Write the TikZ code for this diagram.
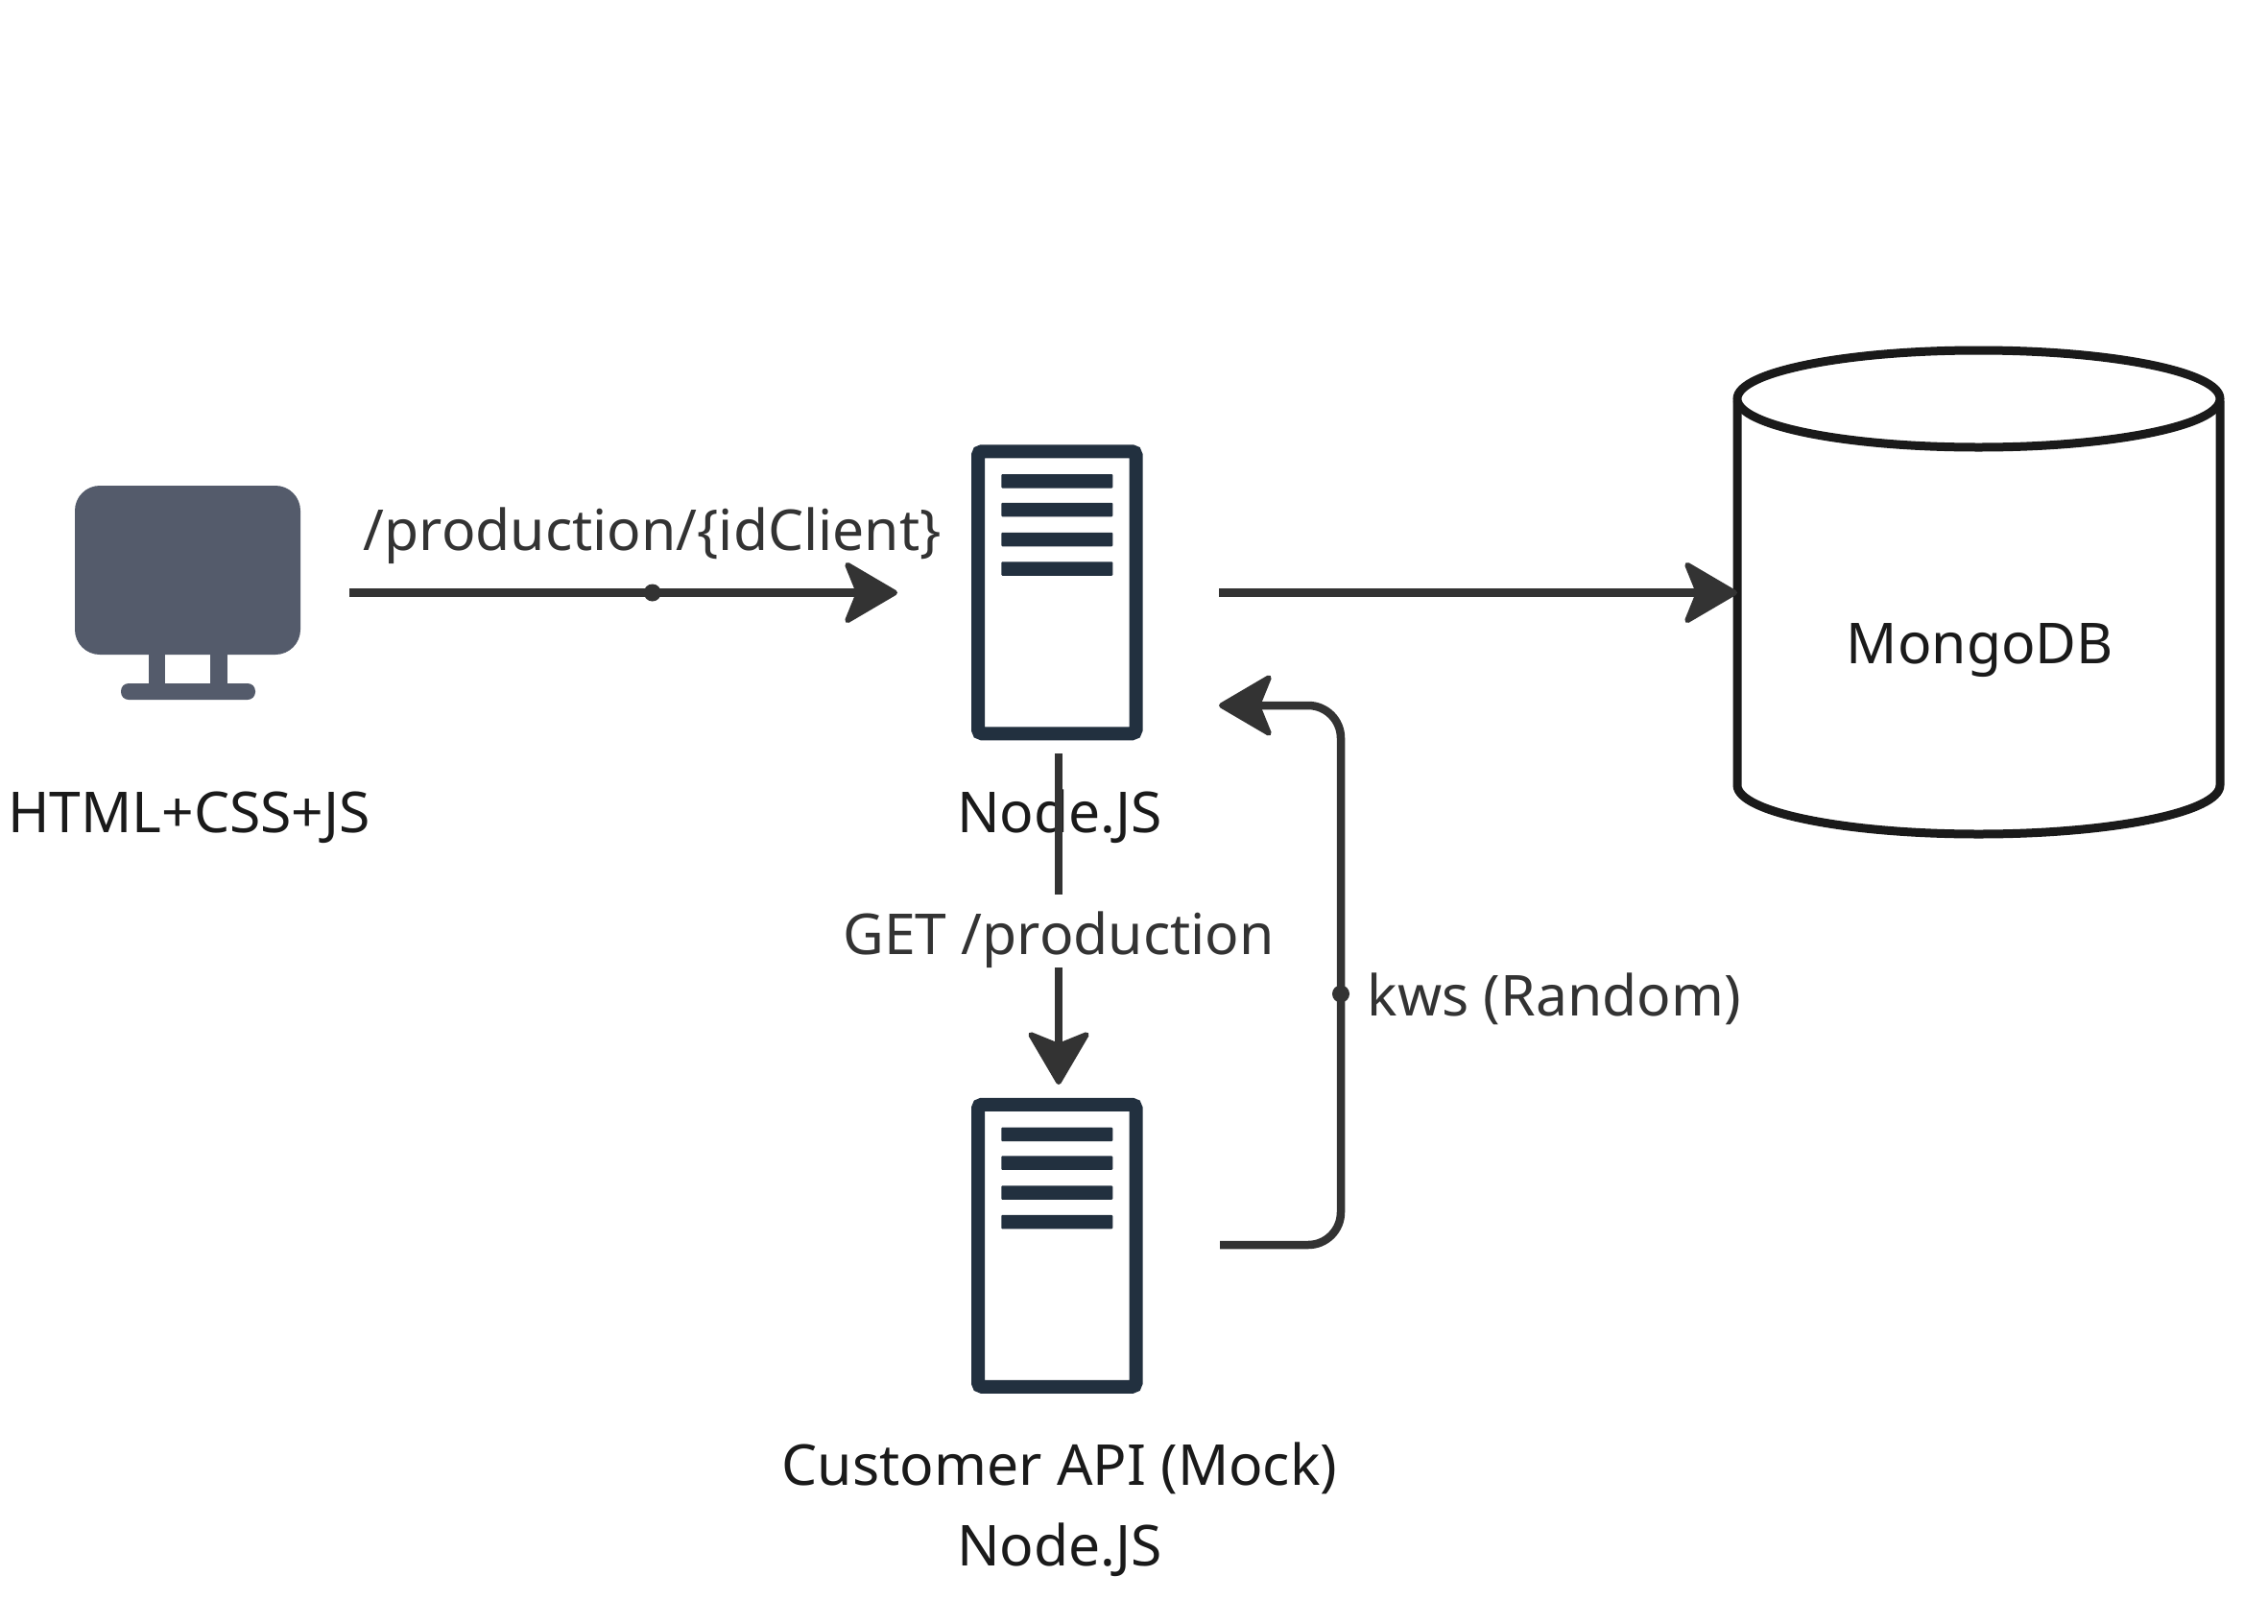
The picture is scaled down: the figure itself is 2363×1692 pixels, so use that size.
\documentclass[tikz,border=0pt]{standalone}
\usepackage{fontspec}
\setmainfont{Noto Sans}
\usetikzlibrary{arrows.meta,calc}
\definecolor{connc}{HTML}{333333}
\definecolor{textc}{HTML}{1A1A1A}
\definecolor{srvc}{HTML}{22303F}
\definecolor{monc}{HTML}{545B6B}
\newcommand{\lblfont}{\fontsize{29.4pt}{36pt}\selectfont}
\tikzset{
  x=0.5pt,y=-0.5pt,
  headtip/.tip={Stealth[length=30pt,width=35pt,inset=7pt,round,line width=2.8pt]},
  conn/.style={draw=connc,line width=4.25pt,-{headtip}},
  nodelabel/.style={font=\lblfont,text=textc,inner sep=0pt,anchor=base},
  edgelabel/.style={font=\lblfont,text=connc,inner sep=0pt,anchor=base},
  jointdot/.style={circle,fill=connc,inner sep=0pt,minimum size=9pt},
  srvbar/.style={fill=srvc,rounded corners=0.5pt},
  moncol/.style={fill=monc},
  serverpic/.pic={
    \node[draw=srvc,line width=7pt,rounded corners=2pt,fill=white,inner sep=0pt,
          minimum width=82.25pt,minimum height=147pt] (box) at (0,0) {};
    \foreach \yy in {-116,-86.25,-55.25,-24.75}
      \path[srvbar] (-58,\yy-7.25) rectangle (58,\yy+7.25);
  }
}
\begin{document}
\begin{tikzpicture}
\useasboundingbox (0,0) rectangle (2363,1692);
\fill[white] (0,0) rectangle (2363,1692);

% client monitor
\node[moncol,rounded corners=13pt,inner sep=0pt,minimum width=117.5pt,minimum height=88pt] (client) at (195.5,594) {};
\path[moncol] (155,680) rectangle (172,714);
\path[moncol] (219,680) rectangle (237,714);
\path[moncol,rounded corners=4pt] (126,712) rectangle (266,729);
\node[nodelabel] (clientlabel) at (197,867.5) {HTML+CSS+JS};

% servers
\pic (nj) at (1101.25,617.25) {serverpic};
\pic (api) at (1101.25,1297.75) {serverpic};
\node[nodelabel] (njlabel) at (1104,867) {Node.JS};
\node[nodelabel] (apilabel1) at (1104,1547.5) {Customer API (Mock)};
\node[nodelabel] (apilabel2) at (1104,1631) {Node.JS};

% database
\draw[textc,line width=4.5pt,fill=white,line join=round]
  (1810,417.5) -- (1810,818) arc[start angle=180,end angle=0,x radius=251.5,y radius=51] -- (2313,417.5);
\draw[textc,line width=4.5pt,fill=white] (2061.5,415.5) ellipse[x radius=251.5,y radius=50.5];
\node[nodelabel] (dblabel) at (2063,691.5) {MongoDB};

% connector ends
\coordinate (clientout) at (364,617.5);
\coordinate (njin) at (935,617.5);
\coordinate (njout) at (1270,617.5);
\coordinate (dbin) at (1810,617.5);
\coordinate (njdown) at (1103,785);
\coordinate (apiin) at (1103,1130);
\coordinate (apiout) at (1271,1297);
\coordinate (route) at (1397,1035.5);
\coordinate (njback) at (1270,735);

% connectors
\draw[conn] (clientout) -- node[pos=.553,jointdot] (dot1) {} (njin);
\node[edgelabel] (prodlabel) at ($(dot1)+(0,-44)$) {/production/\{idClient\}};
\draw[conn] (njout) -- (dbin);
\draw[conn] (njdown) -- node[pos=.536,fill=white,inner sep=0pt,font=\lblfont,text=connc,text height=31.5pt,text depth=6.5pt] (getlabel) {GET /production} (apiin);
\draw[conn,rounded corners=17pt] (apiout) -| (route) |- (njback);
\node[jointdot] (dot2) at (route) {};
\node[edgelabel,anchor=base west] (kwslabel) at (1424.5,1058.5) {kws (Random)};
\end{tikzpicture}
\end{document}
